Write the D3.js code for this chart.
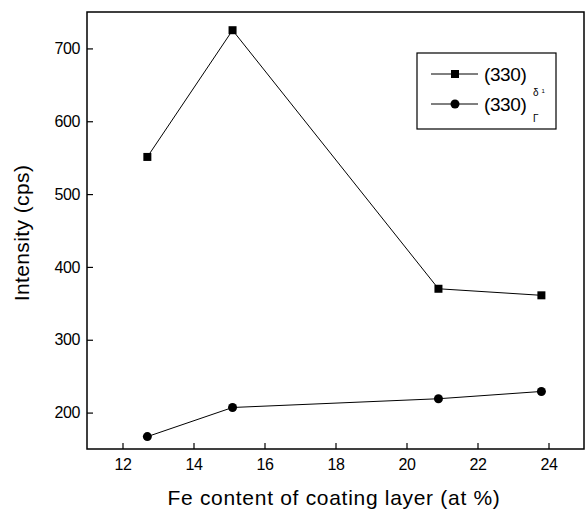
<!DOCTYPE html>
<html>
<head>
<meta charset="utf-8">
<script src="https://cdn.jsdelivr.net/npm/d3@7"></script>
<style>
  body { margin: 0; background: #fff; }
  svg { font-family: "Liberation Sans", Arial, sans-serif; }
</style>
</head>
<body>
<div id="chart"></div>
<script>
// data
const feContent = [12.7, 15.1, 20.9, 23.8];
const delta1 = [551, 725, 370, 361];
const gamma = [167, 207, 219, 229];
const xTicks = [12, 14, 16, 18, 20, 22, 24];
const yTicks = [200, 300, 400, 500, 600, 700];

const width = 587, height = 516;
const margin = { top: 12, right: 3, bottom: 67, left: 87 };

const svg = d3.select('#chart').append('svg')
  .attr('width', width).attr('height', height);

const xScale = d3.scaleLinear().domain([11, 25])
  .range([margin.left, width - margin.right]);
const yScale = d3.scaleLinear().domain([150, 750])
  .range([height - margin.bottom, margin.top]);

// frame
svg.append('rect')
  .attr('x', margin.left).attr('y', margin.top)
  .attr('width', width - margin.left - margin.right)
  .attr('height', height - margin.top - margin.bottom)
  .attr('fill', 'none').attr('stroke', '#000').attr('stroke-width', 1.5);

// axes, ticks pointing inward
const xAxis = svg.append('g')
  .attr('transform', `translate(0, ${height - margin.bottom})`)
  .call(d3.axisBottom(xScale).tickValues(xTicks).tickSizeInner(-6).tickSizeOuter(0).tickPadding(10));
const yAxis = svg.append('g')
  .attr('transform', `translate(${margin.left}, 0)`)
  .call(d3.axisLeft(yScale).tickValues(yTicks).tickSizeInner(-6).tickSizeOuter(0).tickPadding(7));

[xAxis, yAxis].forEach(g => {
  g.attr('font-size', 16).attr('font-family', '"Liberation Sans", Arial, sans-serif');
  g.select('.domain').remove();
  g.selectAll('line').attr('stroke', '#000').attr('stroke-width', 1.2);
  g.selectAll('text').attr('fill', '#000').attr('letter-spacing', -0.4);
});

// axis titles
svg.append('text')
  .attr('x', 334)
  .attr('y', 505)
  .attr('text-anchor', 'middle')
  .attr('font-size', 21)
  .attr('letter-spacing', 0.7)
  .attr('fill', '#000')
  .text('Fe content of coating layer (at %)');

svg.append('text')
  .attr('transform', `translate(29, 233) rotate(-90)`)
  .attr('text-anchor', 'middle')
  .attr('font-size', 21)
  .attr('letter-spacing', 0.4)
  .attr('fill', '#000')
  .text('Intensity (cps)');

// lines
const line = d3.line().x(d => xScale(d[0])).y(d => yScale(d[1]));
const sq = d3.zip(feContent, delta1);
const ci = d3.zip(feContent, gamma);

svg.append('path').datum(sq).attr('d', line)
  .attr('fill', 'none').attr('stroke', '#000').attr('stroke-width', 1);
svg.append('path').datum(ci).attr('d', line)
  .attr('fill', 'none').attr('stroke', '#000').attr('stroke-width', 1);

svg.append('g').selectAll('rect').data(sq).join('rect')
  .attr('x', d => xScale(d[0]) - 4).attr('y', d => yScale(d[1]) - 4)
  .attr('width', 8).attr('height', 8).attr('fill', '#000');

svg.append('g').selectAll('circle').data(ci).join('circle')
  .attr('cx', d => xScale(d[0])).attr('cy', d => yScale(d[1]))
  .attr('r', 4.5).attr('fill', '#000');

// legend
const legend = svg.append('g');
legend.append('rect')
  .attr('x', 417).attr('y', 53).attr('width', 139).attr('height', 76)
  .attr('fill', 'none').attr('stroke', '#000').attr('stroke-width', 1.2);

const rows = [
  { y: 74, shape: 'square', sub: 'δ', sub2: '1', subDy: 22 },
  { y: 104, shape: 'circle', sub: 'Γ', sub2: '', subDy: 18 },
];
rows.forEach(r => {
  legend.append('line')
    .attr('x1', 431).attr('x2', 478).attr('y1', r.y).attr('y2', r.y)
    .attr('stroke', '#000').attr('stroke-width', 1);
  if (r.shape === 'square') {
    legend.append('rect').attr('x', 451).attr('y', r.y - 4)
      .attr('width', 8).attr('height', 8).attr('fill', '#000');
  } else {
    legend.append('circle').attr('cx', 455).attr('cy', r.y).attr('r', 4.5).attr('fill', '#000');
  }
  legend.append('text').attr('x', 484).attr('y', r.y + 7)
    .attr('font-size', 19).attr('letter-spacing', -0.4).attr('fill', '#000').text('(330)');
  const t = legend.append('text').attr('x', 533).attr('y', r.y + r.subDy)
    .attr('font-size', 10).attr('fill', '#000').text(r.sub);
  if (r.sub2) t.append('tspan').attr('dx', 3).attr('dy', -3).attr('font-size', 6).text(r.sub2);
});
</script>
</body>
</html>
